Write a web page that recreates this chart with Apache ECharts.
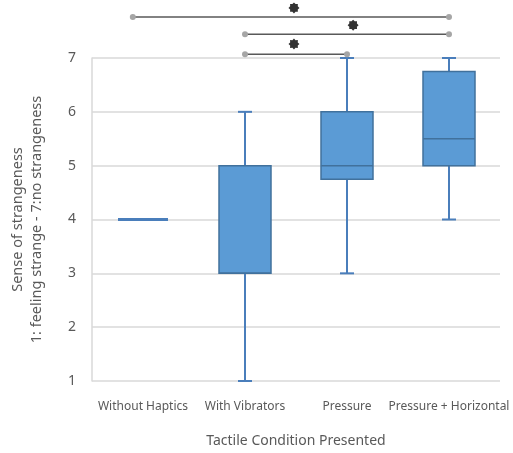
<!DOCTYPE html>
<html>
<head>
<meta charset="utf-8">
<script src="https://cdn.jsdelivr.net/npm/echarts@6/dist/echarts.min.js"></script>
<style>
  html, body { margin: 0; padding: 0; background: #fff; }
  #main { width: 513px; height: 453px; }
</style>
</head>
<body>
<div id="main"></div>
<script>
// categories and box values [min, q1, median, q3, max]
var categories = ['Without Haptics', 'With Vibrators', 'Pressure', 'Pressure + Horizontal'];
var mins    = [4, 1, 3, 4];
var q1s     = [4, 3, 4.75, 5];
var medians = [4, 3, 5, 5.5];
var q3s     = [4, 5, 6, 6.75];
var maxs    = [4, 6, 7, 7];

// significance brackets (x on 0..4 scale over the categories, y in rating units)
var bracketX = [[0.4, 3.5], [1.5, 3.5], [1.5, 2.5]];
var bracketY = [7.76, 7.44, 7.07];
var starX = [1.98, 2.56, 1.98];
var starY = [7.93, 7.61, 7.26];

var yTicks = [1, 2, 3, 4, 5, 6, 7];

var chart = echarts.init(document.getElementById('main'));

// 8 pointed star path
function starPath() {
  var pts = [];
  for (var i = 0; i < 16; i++) {
    var r = i % 2 === 0 ? 10 : 7.5;
    var a = Math.PI * i / 8 - Math.PI / 2;
    pts.push((10 + r * Math.cos(a)).toFixed(2) + ' ' + (10 + r * Math.sin(a)).toFixed(2));
  }
  return 'path://M' + pts.join(' L') + ' Z';
}

var boxData = categories.map(function (c, i) {
  return [i, mins[i], q1s[i], medians[i], q3s[i], maxs[i]];
});

function renderBox(params, api) {
  var idx = api.value(0);
  var pMin = api.coord([idx, api.value(1)]);
  var pQ1 = api.coord([idx, api.value(2)]);
  var pMed = api.coord([idx, api.value(3)]);
  var pQ3 = api.coord([idx, api.value(4)]);
  var pMax = api.coord([idx, api.value(5)]);
  var x = pMed[0];
  var half = 26, cap = 7;
  var whisk = { stroke: '#4A7EBB', lineWidth: 2 };
  var kids = [];
  if (pMin[1] !== pQ1[1]) {
    kids.push({ type: 'line', shape: { x1: x, y1: pMin[1], x2: x, y2: pQ1[1] }, style: whisk });
    kids.push({ type: 'line', shape: { x1: x - cap, y1: pMin[1], x2: x + cap, y2: pMin[1] }, style: whisk });
  }
  if (pMax[1] !== pQ3[1]) {
    kids.push({ type: 'line', shape: { x1: x, y1: pQ3[1], x2: x, y2: pMax[1] }, style: whisk });
    kids.push({ type: 'line', shape: { x1: x - cap, y1: pMax[1], x2: x + cap, y2: pMax[1] }, style: whisk });
  }
  if (pQ1[1] !== pQ3[1]) {
    kids.push({
      type: 'rect',
      shape: { x: x - half, y: pQ3[1], width: half * 2, height: pQ1[1] - pQ3[1] },
      style: { fill: '#5B9BD5', stroke: '#41719C', lineWidth: 1.5 }
    });
    kids.push({ type: 'line', shape: { x1: x - half, y1: pMed[1], x2: x + half, y2: pMed[1] },
      style: { stroke: '#41719C', lineWidth: 1.5 } });
  } else {
    kids.push({ type: 'line', shape: { x1: x - half + 1, y1: pMed[1], x2: x + half - 1, y2: pMed[1] },
      style: { stroke: '#4A7EBB', lineWidth: 3 } });
  }
  return { type: 'group', children: kids };
}

var bracketSeries = bracketX.map(function (xs, i) {
  return {
    type: 'line',
    xAxisIndex: 1,
    yAxisIndex: 0,
    clip: false,
    silent: true,
    symbol: 'circle',
    symbolSize: 6,
    itemStyle: { color: '#a6a6a6' },
    lineStyle: { color: '#595959', width: 1.5 },
    data: [[xs[0], bracketY[i]], [xs[1], bracketY[i]]],
    z: 5
  };
});

var option = {
  animation: false,
  grid: { left: 88, right: 13, top: 58, bottom: 71 },
  xAxis: [{
    type: 'category',
    data: categories,
    axisLine: { show: false },
    axisTick: { show: false },
    axisLabel: { color: '#595959', fontSize: 12, fontFamily: 'Noto Sans', margin: 20, interval: 0 },
    name: 'Tactile Condition Presented',
    nameLocation: 'middle',
    nameGap: 53,
    nameTextStyle: { color: '#595959', fontSize: 14, fontFamily: 'Noto Sans' }
  }, {
    type: 'value',
    min: 0,
    max: 4,
    show: false
  }],
  yAxis: {
    type: 'value',
    min: yTicks[0],
    max: yTicks[yTicks.length - 1],
    interval: 1,
    axisLine: { show: true, lineStyle: { color: '#d9d9d9', width: 1.5 } },
    axisTick: { show: false },
    splitLine: { lineStyle: { color: '#d9d9d9', width: 1.5 } },
    axisLabel: { color: '#595959', fontSize: 14, fontFamily: 'Noto Sans', margin: 16 },
    name: 'Sense of strangeness\n1: feeling strange - 7:no strangeness',
    nameLocation: 'middle',
    nameRotate: 90,
    nameGap: 46,
    nameTextStyle: { color: '#595959', fontSize: 14.5, fontFamily: 'Noto Sans', lineHeight: 19 }
  },
  series: [{
    type: 'custom',
    renderItem: renderBox,
    data: boxData,
    encode: { x: 0, y: [1, 2, 3, 4, 5] },
    z: 3
  }].concat(bracketSeries).concat([{
    type: 'scatter',
    xAxisIndex: 1,
    yAxisIndex: 0,
    clip: false,
    symbol: starPath(),
    symbolSize: 11,
    itemStyle: { color: '#000' },
    data: starX.map(function (x, i) { return [x, starY[i]]; }),
    z: 6
  }])
};

chart.setOption(option);
</script>
</body>
</html>
